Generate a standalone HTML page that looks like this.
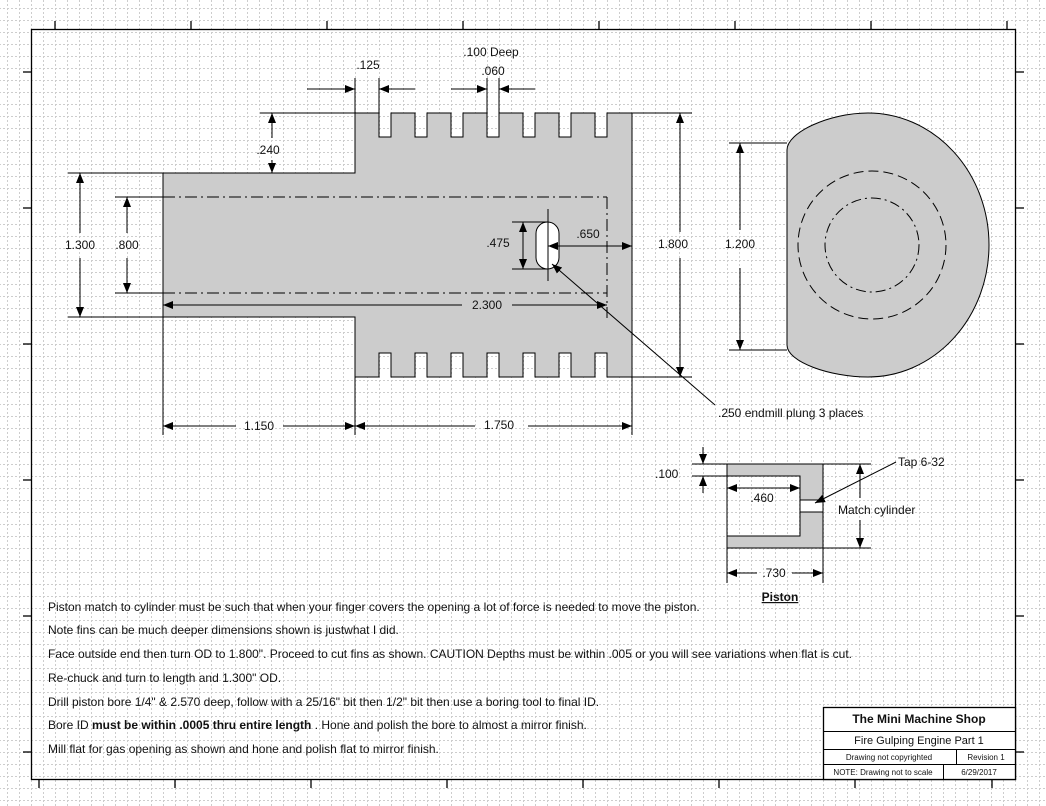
<!DOCTYPE html>
<html><head><meta charset="utf-8"><style>
html,body{margin:0;padding:0;background:#fff}
svg{display:block}
text{font-family:"Liberation Sans",Arial,sans-serif;font-size:12px;fill:#111}
</style></head><body>
<svg width="1046" height="806" viewBox="0 0 1046 806" xmlns="http://www.w3.org/2000/svg">
<defs>
<pattern id="g" x="7" y="8" width="12" height="12" patternUnits="userSpaceOnUse">
<line x1="0.5" y1="0" x2="0.5" y2="12" stroke="#cdcdcd" stroke-dasharray="2,2"/>
<line x1="0" y1="0.5" x2="12" y2="0.5" stroke="#cdcdcd" stroke-dasharray="2,2"/>
</pattern>
<marker id="a" markerUnits="userSpaceOnUse" markerWidth="10" markerHeight="8" refX="10" refY="4" orient="auto">
<path d="M0,0 L10,4 L0,8 z" fill="#000"/>
</marker>
</defs>
<rect width="1046" height="806" fill="#fff"/>
<rect width="1046" height="806" fill="url(#g)"/>
<rect x="31.5" y="29.5" width="984" height="750" fill="none" stroke="#000" stroke-width="1.3"/>
<g stroke="#000" stroke-width="1.3">
<line x1="55" y1="21" x2="55" y2="29"/><line x1="191" y1="21" x2="191" y2="29"/><line x1="327" y1="21" x2="327" y2="29"/><line x1="463" y1="21" x2="463" y2="29"/><line x1="599" y1="21" x2="599" y2="29"/><line x1="735" y1="21" x2="735" y2="29"/><line x1="871" y1="21" x2="871" y2="29"/><line x1="1007" y1="21" x2="1007" y2="29"/>
<line x1="39" y1="780" x2="39" y2="788"/><line x1="175" y1="780" x2="175" y2="788"/><line x1="311" y1="780" x2="311" y2="788"/><line x1="447" y1="780" x2="447" y2="788"/><line x1="583" y1="780" x2="583" y2="788"/><line x1="719" y1="780" x2="719" y2="788"/><line x1="855" y1="780" x2="855" y2="788"/><line x1="992" y1="780" x2="992" y2="788"/>
<line x1="23" y1="72" x2="31" y2="72"/><line x1="23" y1="208" x2="31" y2="208"/><line x1="23" y1="344" x2="31" y2="344"/><line x1="23" y1="480" x2="31" y2="480"/><line x1="23" y1="616" x2="31" y2="616"/><line x1="23" y1="752" x2="31" y2="752"/>
<line x1="1016" y1="72" x2="1024" y2="72"/><line x1="1016" y1="208" x2="1024" y2="208"/><line x1="1016" y1="344" x2="1024" y2="344"/><line x1="1016" y1="480" x2="1024" y2="480"/><line x1="1016" y1="616" x2="1024" y2="616"/><line x1="1016" y1="752" x2="1024" y2="752"/>
</g>
<path d="M163,173 H355 V113 H379 V137 H391 V113 H415 V137 H427 V113 H451 V137 H463 V113 H487 V137 H499 V113 H523 V137 H535 V113 H559 V137 H571 V113 H595 V137 H607 V113 H632 V377 H607 V353 H595 V377 H571 V353 H559 V377 H535 V353 H523 V377 H499 V353 H487 V377 H463 V353 H451 V377 H427 V353 H415 V377 H391 V353 H379 V377 H355 V317 H163 Z" fill="#cccccc" stroke="#000" stroke-width="1"/>
<g stroke="#000" stroke-width="1" fill="none" stroke-dasharray="12,4,2,4">
<line x1="163" y1="197" x2="607" y2="197"/><line x1="163" y1="293" x2="607" y2="293"/><line x1="607" y1="197" x2="607" y2="318"/>
</g>
<rect x="536" y="222" width="23" height="47" rx="11.5" fill="#fff" stroke="#000"/>
<g stroke="#000" stroke-width="1" fill="none">
<line x1="548" y1="209" x2="548" y2="281"/>
<line x1="512" y1="222" x2="548" y2="222"/><line x1="512" y1="269" x2="548" y2="269"/>
<line x1="523" y1="245" x2="523" y2="222" marker-end="url(#a)"/><line x1="523" y1="245" x2="523" y2="269" marker-end="url(#a)"/>
<line x1="590" y1="246" x2="548" y2="246" marker-end="url(#a)"/><line x1="590" y1="246" x2="632" y2="246" marker-end="url(#a)"/>
<line x1="462" y1="305" x2="163" y2="305" marker-end="url(#a)"/><line x1="512" y1="305" x2="607" y2="305" marker-end="url(#a)"/>
<line x1="715" y1="405" x2="552" y2="264" marker-end="url(#a)"/>
<line x1="260" y1="113" x2="355" y2="113"/>
<line x1="272" y1="138" x2="272" y2="113" marker-end="url(#a)"/><line x1="272" y1="160" x2="272" y2="173" marker-end="url(#a)"/>
<line x1="355" y1="78" x2="355" y2="113"/><line x1="379" y1="78" x2="379" y2="113"/>
<line x1="307" y1="89" x2="355" y2="89" marker-end="url(#a)"/><line x1="415" y1="89" x2="379" y2="89" marker-end="url(#a)"/>
<line x1="487" y1="78" x2="487" y2="113"/><line x1="499" y1="78" x2="499" y2="113"/>
<line x1="451" y1="89" x2="487" y2="89" marker-end="url(#a)"/><line x1="535" y1="89" x2="499" y2="89" marker-end="url(#a)"/>
<line x1="68" y1="173" x2="163" y2="173"/><line x1="68" y1="317" x2="163" y2="317"/>
<line x1="80" y1="233" x2="80" y2="173" marker-end="url(#a)"/><line x1="80" y1="258" x2="80" y2="317" marker-end="url(#a)"/>
<line x1="115" y1="197" x2="163" y2="197"/><line x1="115" y1="293" x2="163" y2="293"/>
<line x1="127" y1="233" x2="127" y2="197" marker-end="url(#a)"/><line x1="127" y1="258" x2="127" y2="293" marker-end="url(#a)"/>
<line x1="632" y1="113" x2="692" y2="113"/><line x1="632" y1="377" x2="692" y2="377"/>
<line x1="680" y1="232" x2="680" y2="113" marker-end="url(#a)"/><line x1="680" y1="258" x2="680" y2="377" marker-end="url(#a)"/>
<line x1="163" y1="317" x2="163" y2="435"/><line x1="355" y1="377" x2="355" y2="435"/><line x1="632" y1="377" x2="632" y2="435"/>
<line x1="236" y1="426" x2="163" y2="426" marker-end="url(#a)"/><line x1="283" y1="426" x2="355" y2="426" marker-end="url(#a)"/>
<line x1="475" y1="426" x2="355" y2="426" marker-end="url(#a)"/><line x1="528" y1="426" x2="632" y2="426" marker-end="url(#a)"/>
</g>
<g text-anchor="middle">
<text x="368" y="69">.125</text>
<text x="491" y="56">.100 Deep</text>
<text x="493" y="75">.060</text>
<text x="268" y="154">.240</text>
<text x="80" y="249">1.300</text>
<text x="127" y="249">.800</text>
<text x="498" y="247">.475</text>
<text x="588" y="238">.650</text>
<text x="487" y="309">2.300</text>
<text x="673" y="248">1.800</text>
<text x="259" y="430">1.150</text>
<text x="499" y="429">1.750</text>
<text x="740" y="248">1.200</text>
</g>
<text x="718" y="417">.250 endmill plung 3 places</text>
<path d="M787,150 C787,132 830,113 868,113 A121 132 0 0 1 868,377 C830,377 787,362 787,345 Z" fill="#cccccc" stroke="#000"/>
<circle cx="872" cy="245" r="74" fill="none" stroke="#000" stroke-dasharray="10,5"/>
<circle cx="872" cy="245" r="47" fill="none" stroke="#000" stroke-dasharray="10,4,2,4"/>
<g stroke="#000" fill="none">
<line x1="729" y1="143" x2="787" y2="143"/><line x1="729" y1="350" x2="787" y2="350"/>
<line x1="740" y1="230" x2="740" y2="143" marker-end="url(#a)"/><line x1="740" y1="268" x2="740" y2="350" marker-end="url(#a)"/>
</g>
<path d="M727,464 H823 V548 H727 V536 H800 V476 H727 Z" fill="#cccccc" stroke="#000"/>
<rect x="800" y="500" width="23" height="12" fill="#fff" stroke="#000"/>
<g stroke="#000" fill="none">
<line x1="692" y1="464" x2="727" y2="464"/><line x1="692" y1="476" x2="727" y2="476"/>
<line x1="703" y1="447" x2="703" y2="464" marker-end="url(#a)"/><line x1="703" y1="493" x2="703" y2="476" marker-end="url(#a)"/>
<line x1="727" y1="476" x2="727" y2="583"/><line x1="823" y1="548" x2="823" y2="583"/>
<line x1="760" y1="488" x2="727" y2="488" marker-end="url(#a)"/><line x1="760" y1="488" x2="800" y2="488" marker-end="url(#a)"/>
<line x1="757" y1="573" x2="727" y2="573" marker-end="url(#a)"/><line x1="792" y1="573" x2="823" y2="573" marker-end="url(#a)"/>
<line x1="823" y1="464" x2="871" y2="464"/><line x1="823" y1="548" x2="871" y2="548"/>
<line x1="860" y1="498" x2="860" y2="464" marker-end="url(#a)"/><line x1="860" y1="520" x2="860" y2="548" marker-end="url(#a)"/>
<line x1="896" y1="462" x2="815" y2="503" marker-end="url(#a)"/>
</g>
<text x="655" y="478">.100</text>
<text x="762" y="502" text-anchor="middle">.460</text>
<text x="774" y="577" text-anchor="middle">.730</text>
<text x="838" y="514">Match cylinder</text>
<text x="898" y="466">Tap 6-32</text>
<text x="780" y="601" text-anchor="middle" font-weight="bold" text-decoration="underline">Piston</text>
<g>
<text x="48" y="611">Piston match to cylinder must be such that when your finger covers the opening a lot of force is needed to move the piston.</text>
<text x="48" y="634">Note fins can be much deeper dimensions shown is justwhat I did.</text>
<text x="48" y="658">Face outside end then turn OD to 1.800". Proceed to cut fins as shown. CAUTION Depths must be within .005 or you will see variations when flat is cut.</text>
<text x="48" y="682">Re-chuck and turn to length and 1.300" OD.</text>
<text x="48" y="706">Drill piston bore 1/4" &amp; 2.570 deep, follow with a 25/16" bit then 1/2" bit then use a boring tool to final ID.</text>
<text x="48" y="729">Bore ID <tspan font-weight="bold">must be within .0005 thru entire length</tspan> . Hone and polish the bore to almost a mirror finish.</text>
<text x="48" y="753">Mill flat for gas opening as shown and hone and polish flat to mirror finish.</text>
</g>
<rect x="823.5" y="707.5" width="192" height="72" fill="#fff" stroke="#000" stroke-width="1.3"/>
<g stroke="#000">
<line x1="823" y1="731.5" x2="1016" y2="731.5"/><line x1="823" y1="749.5" x2="1016" y2="749.5"/><line x1="823" y1="764.5" x2="1016" y2="764.5"/>
<line x1="956.5" y1="749" x2="956.5" y2="764"/><line x1="943.5" y1="764" x2="943.5" y2="779"/>
</g>
<text x="919" y="723" text-anchor="middle" font-weight="bold" font-size="12">The Mini Machine Shop</text>
<text x="919" y="744" text-anchor="middle" style="font-size:11px">Fire Gulping Engine Part  1</text>
<text x="889" y="760" text-anchor="middle" style="font-size:8px">Drawing not copyrighted</text>
<text x="986" y="760" text-anchor="middle" style="font-size:8px">Revision  1</text>
<text x="883" y="775" text-anchor="middle" style="font-size:8px">NOTE: Drawing not to scale</text>
<text x="979" y="775" text-anchor="middle" style="font-size:8px">6/29/2017</text>
</svg>
</body></html>
